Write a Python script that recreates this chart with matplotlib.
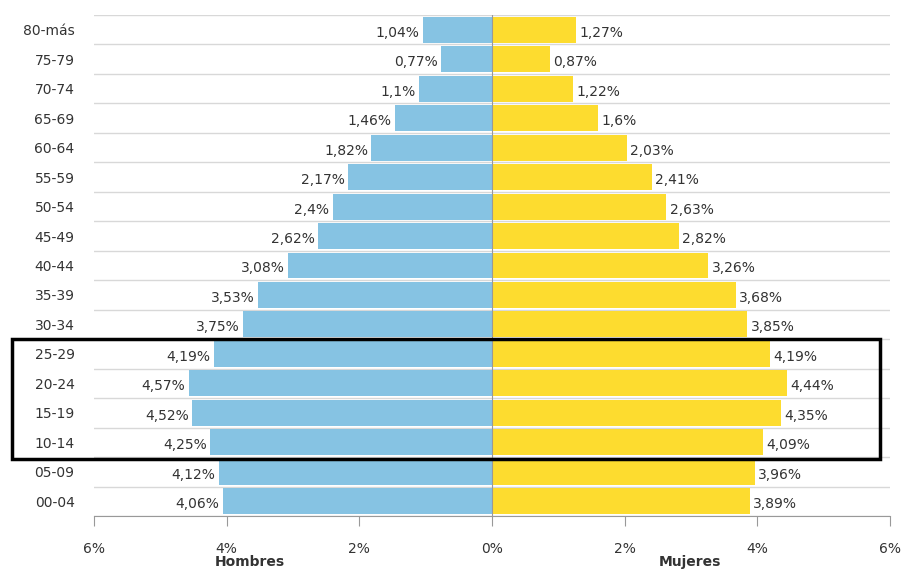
import numpy as np
import matplotlib.pyplot as plt
from matplotlib.patches import Rectangle

# Age groups, top to bottom
grupos = ['80-más', '75-79', '70-74', '65-69', '60-64', '55-59', '50-54', '45-49',
          '40-44', '35-39', '30-34', '25-29', '20-24', '15-19', '10-14', '05-09', '00-04']
hombres = [1.04, 0.77, 1.1, 1.46, 1.82, 2.17, 2.4, 2.62, 3.08, 3.53, 3.75,
           4.19, 4.57, 4.52, 4.25, 4.12, 4.06]
mujeres = [1.27, 0.87, 1.22, 1.6, 2.03, 2.41, 2.63, 2.82, 3.26, 3.68, 3.85,
           4.19, 4.44, 4.35, 4.09, 3.96, 3.89]
ticks = [-6, -4, -2, 0, 2, 4, 6]

def fmt(v):
    s = ('%.2f' % v).rstrip('0').rstrip('.')
    return s.replace('.', ',') + '%'

W, H = 906, 569
fig = plt.figure(figsize=(W / 100, H / 100), dpi=100)
ax = fig.add_axes([94 / W, 1 - 516 / H, (890 - 94) / W, (516 - 15) / H])

n = len(grupos)
y = np.arange(n)[::-1]
azul = '#86c3e3'
amarillo = '#fddc2f'
txt = '#333333'

ax.barh(y, [-v for v in hombres], height=0.88, color=azul, zorder=2)
ax.barh(y, mujeres, height=0.88, color=amarillo, zorder=2)

for yi, h, m in zip(y, hombres, mujeres):
    ax.text(-h - 0.05, yi - 0.1, fmt(h), ha='right', va='center', fontsize=10, color=txt)
    ax.text(m + 0.05, yi - 0.1, fmt(m), ha='left', va='center', fontsize=10, color=txt)

# horizontal separators between groups
for b in np.arange(n + 1) - 0.5:
    ax.axhline(b, color='#d8d8d8', lw=1, zorder=1)
ax.axvline(0, color='#999999', lw=0.8, zorder=3)

ax.set_xlim(-6, 6)
ax.set_ylim(-0.5, n - 0.5)
ax.set_xticks(ticks)
ax.set_xticklabels(['%d%%' % abs(t) for t in ticks], fontsize=10, color=txt)
ax.tick_params(axis='x', length=7, color='#999999', pad=12)
ax.set_yticks(y)
ax.set_yticklabels(grupos, fontsize=10, color=txt)
ax.tick_params(axis='y', length=0, pad=14)
for s in ['top', 'left', 'right']:
    ax.spines[s].set_visible(False)
ax.spines['bottom'].set_color('#999999')

fig.text(250 / W, 1 - 562 / H, 'Hombres', ha='center', va='center',
         fontsize=10, fontweight='bold', color=txt)
fig.text(690 / W, 1 - 562 / H, 'Mujeres', ha='center', va='center',
         fontsize=10, fontweight='bold', color=txt)

# highlight box around the 10-29 groups
fig.patches.append(Rectangle((12 / W, 1 - 459 / H), (880 - 12) / W, (459 - 339) / H,
                             transform=fig.transFigure, fill=False, ec='black', lw=2.5))

fig.savefig('out.png', dpi=100)
